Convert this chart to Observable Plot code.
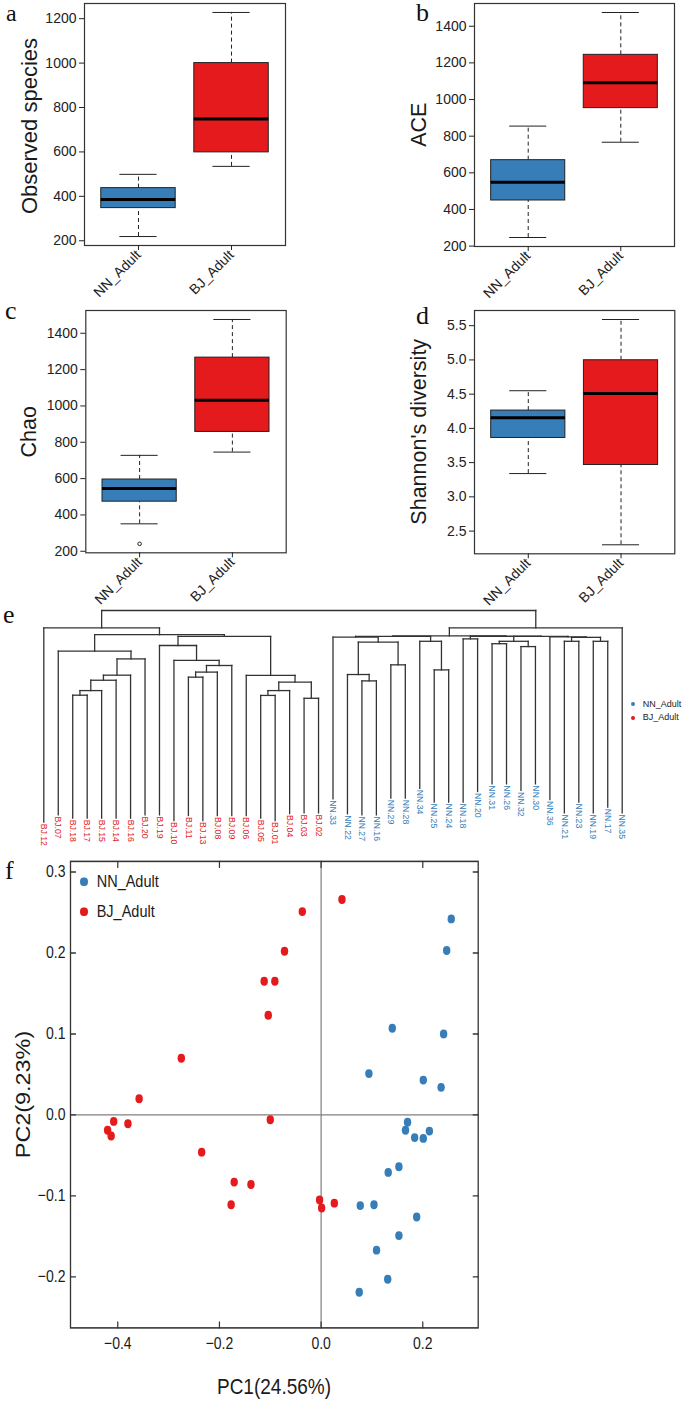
<!DOCTYPE html>
<html><head><meta charset="utf-8">
<script src="https://cdn.jsdelivr.net/npm/d3@7"></script>
<script src="https://cdn.jsdelivr.net/npm/@observablehq/plot@0.6"></script>
<style>
html,body{margin:0;padding:0;overflow:hidden;background:#fff}
#fig{position:relative;width:685px;height:1404px;font-family:"Liberation Sans",Arial,Helvetica,sans-serif;color:#1a1a1a;background:#fff}
.abs{position:absolute}
.letter{position:absolute;font-family:"Liberation Serif","Times New Roman",serif;font-size:26px;line-height:18px;color:#111}
.t{position:absolute;white-space:nowrap}
</style></head><body><div id="fig"></div>
<script>
// ---------- data ----------
const groupNames = ["NN_Adult", "BJ_Adult"];
const groupColors = ["#377EB8", "#E41A1C"];

// boxplot stats: [lower whisker, Q1, median, Q3, upper whisker]
const observedNN = [219, 347, 386, 437, 499];
const observedBJ = [535, 598, 748, 1000, 1228];
const aceNN = [247, 449, 549, 669, 855];
const aceBJ = [767, 953, 1091, 1244, 1475];
const chaoNN = [351, 473, 545, 595, 728];
const chaoBJ = [746, 857, 1031, 1266, 1476];
const chaoOutlierNN = [241];
const shannonNN = [3.34, 3.86, 4.155, 4.26, 4.55];
const shannonBJ = [2.30, 3.465, 4.51, 4.995, 5.59];
const countTicks = [200, 400, 600, 800, 1000, 1200, 1400];
const shannonTicks = [2.5, 3.0, 3.5, 4.0, 4.5, 5.0, 5.5];

// dendrogram
const leafNames = ["BJ.12","BJ.07","BJ.18","BJ.17","BJ.15","BJ.14","BJ.16","BJ.20","BJ.19","BJ.10","BJ.11","BJ.13","BJ.08","BJ.09","BJ.06","BJ.05","BJ.01","BJ.04","BJ.03","BJ.02","NN.33","NN.22","NN.27","NN.16","NN.29","NN.28","NN.34","NN.25","NN.24","NN.18","NN.20","NN.31","NN.26","NN.32","NN.30","NN.36","NN.21","NN.23","NN.19","NN.17","NN.35"];
const leafEnds = [0.038,0.071,0.056,0.056,0.056,0.056,0.056,0.071,0.071,0.045,0.068,0.045,0.068,0.068,0.068,0.056,0.045,0.077,0.080,0.080,0.144,0.076,0.071,0.071,0.147,0.147,0.192,0.129,0.129,0.129,0.177,0.212,0.212,0.182,0.212,0.141,0.080,0.129,0.080,0.106,0.080];
// merges: [child A, child B, height]; strings = leaves, numbers = earlier merge rows
const merges = [
  ["BJ.18","BJ.17",0.615],[0,"BJ.15",0.636],[1,"BJ.14",0.683],[2,"BJ.16",0.706],[3,"BJ.20",0.780],
  ["BJ.07",4,0.815],["BJ.11","BJ.13",0.697],[6,"BJ.08",0.720],[7,"BJ.09",0.750],["BJ.10",8,0.773],
  ["BJ.19",9,0.841],["BJ.05","BJ.01",0.614],[11,"BJ.04",0.636],["BJ.03","BJ.02",0.601],[12,13,0.674],
  ["BJ.06",14,0.705],[10,15,0.882],[5,16,0.890],["BJ.12",17,0.921],
  ["NN.27","NN.16",0.680],["NN.22",19,0.709],["NN.29","NN.28",0.753],[20,21,0.856],["NN.33",22,0.879],
  ["NN.25","NN.24",0.730],["NN.34",24,0.860],[23,25,0.882],["NN.18","NN.20",0.871],["NN.31","NN.26",0.849],
  ["NN.32","NN.30",0.836],[28,29,0.860],["NN.21","NN.23",0.860],["NN.19","NN.17",0.860],[31,32,0.878],
  ["NN.36",33,0.880],[30,34,0.882],[27,35,0.883],[26,36,0.885],[37,"NN.35",0.921],[18,38,1.0]
];

// PCoA
const pc1BJ = [0.041,-0.037,-0.072,-0.112,-0.091,-0.104,-0.275,-0.358,-0.408,-0.420,-0.413,-0.380,-0.100,-0.235,-0.171,-0.138,-0.177,-0.003,0.001,0.026];
const pc2BJ = [0.266,0.251,0.202,0.165,0.165,0.123,0.070,0.020,-0.008,-0.019,-0.026,-0.011,-0.006,-0.046,-0.083,-0.086,-0.111,-0.105,-0.115,-0.109];
const pc1NN = [0.256,0.247,0.140,0.241,0.094,0.201,0.236,0.170,0.166,0.184,0.201,0.213,0.153,0.132,0.077,0.104,0.188,0.153,0.109,0.131,0.075];
const pc2NN = [0.242,0.203,0.107,0.100,0.051,0.043,0.034,-0.009,-0.019,-0.028,-0.029,-0.020,-0.064,-0.071,-0.112,-0.111,-0.126,-0.149,-0.167,-0.203,-0.219];
const pcaXTicks = [-0.4, -0.2, 0.0, 0.2];
const pcaYTicks = [-0.2, -0.1, 0.0, 0.1, 0.2, 0.3];

// ---------- helpers ----------
const fig = document.getElementById("fig");
const FONT = "Liberation Sans, Arial, Helvetica, sans-serif";
function place(parent, node, left, top, w) {
  const d = document.createElement("div");
  d.className = "abs";
  d.style.left = left + "px"; d.style.top = top + "px";
  if (w) d.style.width = w + "px";
  d.appendChild(node); parent.appendChild(d); return d;
}
function label(parent, str, {left, cy, size, color = "#1a1a1a", center = false, rotate = 0, cls = "t"}) {
  const d = document.createElement("div");
  d.className = cls;
  d.textContent = str;
  d.style.fontSize = size + "px";
  d.style.lineHeight = size + "px";
  d.style.color = color;
  if (center) {
    const W = 400;
    d.style.width = W + "px"; d.style.textAlign = "center";
    d.style.left = (left - W / 2) + "px";
  } else d.style.left = left + "px";
  d.style.top = (cy - size / 2) + "px";
  if (rotate) { d.style.transform = `rotate(${rotate}deg)`; d.style.transformOrigin = "50% 50%"; }
  parent.appendChild(d); return d;
}
function letter(str, left, baseline, size = 26) {
  const d = document.createElement("div");
  d.className = "letter"; d.textContent = str;
  d.style.fontSize = size + "px";
  d.style.lineHeight = size + "px";
  // baseline sits ~0.838em below the top of the line box for Liberation Serif (line-height = 1em)
  d.style.left = left + "px"; d.style.top = Math.max(0, baseline - 0.838 * size) + "px";
  fig.appendChild(d);
}
// a short straight tick drawn by Plot.vector
const tickShape = {draw(context, l) { context.moveTo(0, 0); context.lineTo(0, -l); }};

function boxPanel(nn, bj, outliersNN, ticks, fmt, w, h, m) {
  const rows = [nn, bj].map((s, i) => ({pos: i + 1, group: groupNames[i], lo: s[0], q1: s[1], med: s[2], q3: s[3], hi: s[4]}));
  const outs = outliersNN.map(v => ({pos: 1, v}));
  const [mn, mx] = d3.extent([...nn, ...bj, ...outliersNN]);
  const pad = (mx - mn) * 0.04;
  const dom = [mn - pad, mx + pad];
  const tks = ticks.filter(t => t >= dom[0] && t <= dom[1]);
  return Plot.plot({
    width: w, height: h, marginLeft: m[0], marginRight: m[1], marginTop: m[2], marginBottom: m[3],
    style: {background: "transparent", overflow: "visible", color: "#222", fontFamily: FONT},
    x: {domain: [0.42, 2.58], axis: null},
    y: {domain: dom, axis: null},
    color: {domain: groupNames, range: groupColors},
    marks: [
      Plot.ruleX(rows, {x: "pos", y1: "q3", y2: "hi", stroke: "#222", strokeDasharray: "4,3"}),
      Plot.ruleX(rows, {x: "pos", y1: "lo", y2: "q1", stroke: "#222", strokeDasharray: "4,3"}),
      Plot.ruleY(rows, {y: "hi", x1: d => d.pos - 0.2, x2: d => d.pos + 0.2, stroke: "#222"}),
      Plot.ruleY(rows, {y: "lo", x1: d => d.pos - 0.2, x2: d => d.pos + 0.2, stroke: "#222"}),
      Plot.rect(rows, {x1: d => d.pos - 0.4, x2: d => d.pos + 0.4, y1: "q1", y2: "q3", fill: "group", stroke: "#222", strokeWidth: 1}),
      Plot.ruleY(rows, {y: "med", x1: d => d.pos - 0.4, x2: d => d.pos + 0.4, stroke: "#000", strokeWidth: 3}),
      Plot.dot(outs, {x: "pos", y: "v", r: 1.8, stroke: "#222", strokeWidth: 1}),
      Plot.frame({stroke: "#333", strokeWidth: 1.2}),
      Plot.axisY(tks, {tickFormat: fmt, tickSize: 5, tickPadding: 3, fontSize: 14, label: null}),
      Plot.axisX([1, 2], {tickFormat: i => groupNames[i - 1], tickRotate: -45, tickSize: 5, tickPadding: 2, fontSize: 14, label: null})
    ]
  });
}

function dendrogram() {
  const idx = new Map(leafNames.map((n, i) => [n, i + 1]));
  const nx = [], nh = [], segs = [];
  const info = c => typeof c === "string" ? {x: idx.get(c), h: leafEnds[idx.get(c) - 1]} : {x: nx[c], h: nh[c]};
  merges.forEach(([a, b, h], k) => {
    const A = info(a), B = info(b);
    nx[k] = (A.x + B.x) / 2; nh[k] = h;
    segs.push({x1: A.x, y1: h, x2: B.x, y2: h});
    segs.push({x1: A.x, y1: A.h, x2: A.x, y2: h});
    segs.push({x1: B.x, y1: B.h, x2: B.x, y2: h});
  });
  const leaves = leafNames.map((n, i) => ({name: n, pos: i + 1, end: leafEnds[i], group: n.startsWith("BJ") ? "BJ_Adult" : "NN_Adult"}));
  return Plot.plot({
    width: 685, height: 265, marginLeft: 43.3, marginRight: 63.3, marginTop: 20, marginBottom: 25,
    style: {background: "transparent", overflow: "visible", fontFamily: FONT},
    x: {domain: [1, leafNames.length], axis: null},
    y: {domain: [0, 1], axis: null},
    color: {domain: groupNames, range: groupColors},
    marks: [
      Plot.link(segs, {x1: "x1", y1: "y1", x2: "x2", y2: "y2", stroke: "#333", strokeWidth: 1.3, strokeLinecap: "square"}),
      Plot.text(leaves, {x: "pos", y: "end", text: "name", fill: "group", rotate: 90, textAnchor: "start", lineAnchor: "middle", dy: 1.5, fontSize: 8.7})
    ]
  });
}

function pcaPlot() {
  const pts = [
    ...pc1BJ.map((x, i) => ({x, y: pc2BJ[i], group: "BJ_Adult"})),
    ...pc1NN.map((x, i) => ({x, y: pc2NN[i], group: "NN_Adult"}))
  ];
  const f = d3.format(".1f");
  const tk = {length: 5, anchor: "start", shape: tickShape, stroke: "#333", strokeWidth: 1.2};
  return Plot.plot({
    width: 685, height: 462, marginLeft: 70, marginRight: 207.3, marginTop: 9, marginBottom: 64.25,
    style: {background: "transparent", overflow: "visible", color: "#1a1a1a", fontFamily: FONT},
    x: {domain: [-0.493, 0.309], axis: null},
    y: {domain: [-0.263, 0.313], axis: null},
    color: {domain: groupNames, range: groupColors},
    marks: [
      Plot.ruleX([0], {stroke: "#808080", strokeWidth: 1.2}),
      Plot.ruleY([0], {stroke: "#808080", strokeWidth: 1.2}),
      Plot.dot(pts, {x: "x", y: "y", fill: "group", r: 3.7}),
      Plot.frame({stroke: "#333", strokeWidth: 1.3}),
      // inward ticks on all four sides
      Plot.vector(pcaXTicks, {x: d => d, frameAnchor: "bottom", rotate: 0, ...tk}),
      Plot.vector(pcaXTicks, {x: d => d, frameAnchor: "top", rotate: 180, ...tk}),
      Plot.vector(pcaYTicks, {y: d => d, frameAnchor: "left", rotate: 90, ...tk}),
      Plot.vector(pcaYTicks, {y: d => d, frameAnchor: "right", rotate: -90, ...tk}),
      Plot.axisX(pcaXTicks, {anchor: "bottom", tickSize: 0, tickPadding: 8, tickFormat: f, fontSize: 14, label: null}),
      Plot.axisY(pcaYTicks, {anchor: "left", tickSize: 0, tickPadding: 5, tickFormat: f, fontSize: 14, label: null})
    ]
  });
}

// ---------- assemble ----------
place(fig, dendrogram(), 0, 590, 685);
place(fig, boxPanel(observedNN, observedBJ, [], countTicks, d => String(d), 340, 300, [84, 55, 3, 55]), 0, 0, 340);
place(fig, boxPanel(aceNN, aceBJ, [], countTicks, d => String(d), 345, 300, [134, 11, 3, 54]), 340, 0, 345);
place(fig, boxPanel(chaoNN, chaoBJ, chaoOutlierNN, countTicks, d => String(d), 340, 310, [85.3, 54.3, 10, 57.7]), 0, 300, 340);
place(fig, boxPanel(shannonNN, shannonBJ, [], shannonTicks, d3.format(".1f"), 345, 310, [134, 10.7, 10, 56.7]), 340, 300, 345);

label(fig, "Observed species", {left: 30, cy: 126, size: 22, center: true, rotate: -90});
label(fig, "ACE", {left: 420, cy: 125, size: 21.5, center: true, rotate: -90});
label(fig, "Chao", {left: 30, cy: 432, size: 21.5, center: true, rotate: -90});
label(fig, "Shannon's diversity", {left: 420, cy: 432, size: 21.5, center: true, rotate: -90});

// dendrogram legend
[0, 1].forEach(i => {
  const cy = 704 + i * 13.7;
  const dot = document.createElement("div");
  dot.className = "abs";
  Object.assign(dot.style, {left: (633.3 - 2.2) + "px", top: (cy - 2.2) + "px", width: "4.4px", height: "4.4px", borderRadius: "50%", background: groupColors[i]});
  fig.appendChild(dot);
  label(fig, groupNames[i], {left: 642.7, cy, size: 9, color: "#222"});
});

// PCoA panel (figure stretched vertically as in the source)
const wrap = document.createElement("div");
wrap.className = "abs";
Object.assign(wrap.style, {left: "0px", top: "850px", width: "685px", height: "462px", transform: "scaleY(1.2)", transformOrigin: "0 0"});
fig.appendChild(wrap);
place(wrap, pcaPlot(), 0, 0, 685);
[0, 1].forEach(i => {
  const cy = 26.4 + i * 25;
  const dot = document.createElement("div");
  dot.className = "abs";
  Object.assign(dot.style, {left: (84 - 3.7) + "px", top: (cy - 3.7) + "px", width: "7.4px", height: "7.4px", borderRadius: "50%", background: groupColors[i]});
  wrap.appendChild(dot);
  label(wrap, groupNames[i], {left: 96.7, cy, size: 14.5, color: "#1a1a1a"});
});
label(wrap, "PC1(24.56%)", {left: 274, cy: 446, size: 19, center: true});
label(wrap, "PC2(9.23%)", {left: 24, cy: 203.3, size: 19.5, center: true, rotate: -90});

letter("a", 6, 21.5, 24);
letter("b", 416, 21.7);
letter("c", 5, 320);
letter("d", 416, 325);
letter("e", 3, 623.3);
letter("f", 5, 880);
</script></body></html>
